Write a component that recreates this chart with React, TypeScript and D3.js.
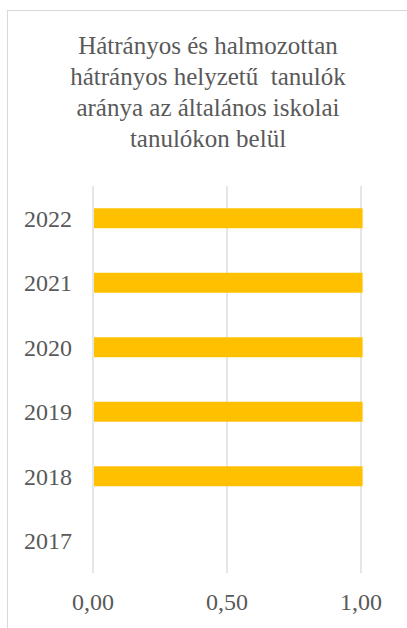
import React from 'react';
import * as d3 from 'd3';

const years = ['2017', '2018', '2019', '2020', '2021', '2022'];
const values: (number | null)[] = [null, 1.006, 1.006, 1.006, 1.006, 1.006];
const ticks = [0, 0.5, 1];
const titleLines = [
  'Hátrányos és halmozottan',
  'hátrányos helyzetű  tanulók',
  'aránya az általános iskolai',
  'tanulókon belül',
];

const W = 407;
const H = 628;
const font = 'Liberation Serif';
const textColor = '#595959';

const x = d3.scaleLinear().domain([0, 1]).range([93, 361]);
const y = d3
  .scaleBand()
  .domain([...years].reverse())
  .range([186, 573])
  .paddingInner(0.69)
  .paddingOuter(0.345);

const fmt = (d: number) => d3.format('.2f')(d).replace('.', ',');

const App = () => {
  const bars = years
    .map((yr, i) => ({ yr, v: values[i] }))
    .filter((d) => d.v !== null) as { yr: string; v: number }[];

  return (
    <svg
      width={W}
      height={H}
      style={{ position: 'absolute', left: 0, top: 0, background: '#fff' }}
    >
      {/* chart border */}
      <rect x={7.5} y={10.5} width={W + 20} height={H + 20} fill="#fff" stroke="#d9d9d9" />

      {/* title */}
      <text
        textAnchor="middle"
        fill={textColor}
        style={{ fontFamily: font, fontSize: '25px', whiteSpace: 'pre' }}
      >
        {titleLines.map((t, i) => (
          <tspan key={i} x={208} y={54 + i * 31}>
            {t}
          </tspan>
        ))}
      </text>

      {/* gridlines */}
      {ticks.map((t) => (
        <line key={t} x1={x(t)} x2={x(t)} y1={186} y2={573} stroke="#d9d9d9" strokeWidth={1.3} />
      ))}

      {/* bars */}
      {bars.map((d) => (
        <rect
          key={d.yr}
          x={x(0) + 1}
          y={y(d.yr)}
          width={x(d.v) - x(0) - 1}
          height={y.bandwidth()}
          fill="#FFC000"
        />
      ))}

      {/* y labels */}
      {years.map((yr) => (
        <text
          key={yr}
          x={72}
          y={(y(yr) as number) + y.bandwidth() / 2}
          dy="0.35em"
          textAnchor="end"
          fill={textColor}
          style={{ fontFamily: font, fontSize: '24px' }}
        >
          {yr}
        </text>
      ))}

      {/* x labels */}
      {ticks.map((t) => (
        <text
          key={t}
          x={x(t)}
          y={610}
          textAnchor="middle"
          fill={textColor}
          style={{ fontFamily: font, fontSize: '24px' }}
        >
          {fmt(t)}
        </text>
      ))}
    </svg>
  );
};

export default App;
